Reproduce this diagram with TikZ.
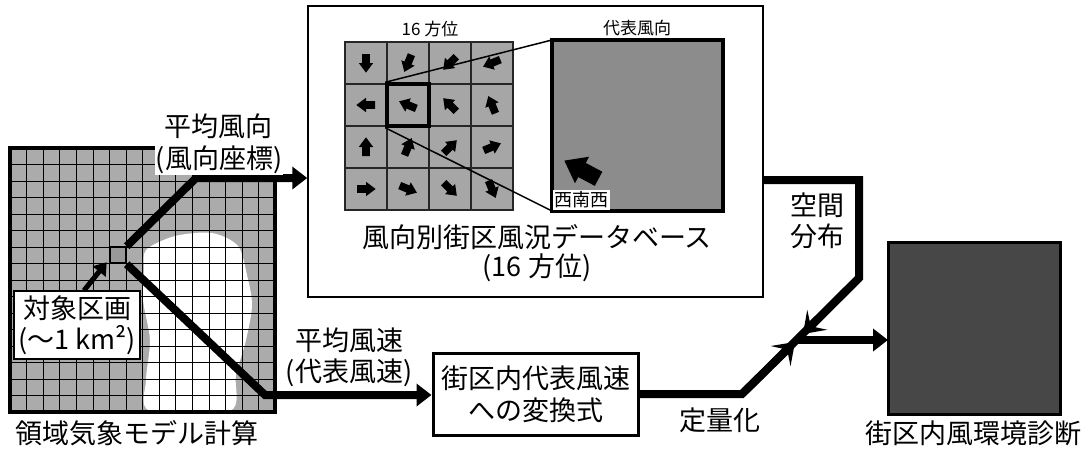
\documentclass[tikz,border=0pt]{standalone}
\usepackage{fontspec}
\setmainfont{Noto Sans CJK JP}
\usetikzlibrary{arrows.meta}
\tikzset{flow/.style={line width=8pt},
flowtip/.style={-{Triangle[length=15pt,width=22pt]}},
jointip/.style={-{Stealth[length=20pt,width=28pt,inset=9pt]}},
biglabel/.style={font=\fontsize{27}{31}\selectfont, inner sep=1pt, align=center},
smalllabel/.style={font=\fontsize{17}{20}\selectfont, inner sep=1pt},
mapbox/.style={draw, line width=#1, inner sep=0pt, outer sep=0pt},
%default border of the maps
mapbox/.default={4pt},
windarrow/.pic={\fill (-7.5,-3.2) -- (0,-3.2) -- (0,-6) -- (8,0) -- (0,6) -- (0,3.2) -- (-7.5,3.2) -- cycle;}}

\begin{document}
\begin{tikzpicture}[x=1pt,y=-1pt]
\useasboundingbox (0,0) rectangle (1088,450);

% regional model
\node[inner sep=0pt, fill=black!33, minimum width=265pt, minimum height=264pt] (region) at (142.5,280) {};
\fill[white] plot[smooth cycle] coordinates {(146,250) (175,236) (212,233) (238,246) (247,275) (252,305) (246,340) (236,375) (230,411) (150,411) (146,380) (150,340) (143,300) (144,270)};
\foreach \i in {1,...,15} {
     \draw (10+\i*16.5625,148) -- (10+\i*16.5625,412);
     \draw (10,148+\i*16.5) -- (275,148+\i*16.5);
}
\draw[line width=4pt] (region.north west) rectangle (region.south east);
\node[draw, line width=2pt, fill=black!40, minimum size=16pt, inner sep=0pt] (cell) at (117.7,255.2) {};
\node[biglabel, draw, line width=2pt, fill=white, inner sep=4pt] (target) at (77,325) {対象区画\\(～1 km²)};
\draw[line width=5pt, -{Triangle[length=12pt,width=16pt]}] ([xshift=7pt]target.north) -- ([shift={(-2pt,2pt)}]cell.south west);
\node[biglabel] (regionname) at (137,433) {領域気象モデル計算};

% database
\node[draw, line width=1.5pt, minimum width=455pt, minimum height=291pt] (db) at (535.5,151.5) {};
\foreach \r in {0,...,3}
  \foreach \c in {0,...,3} {
     \draw[draw=black!85, line width=1.5pt, fill=black!35] (345+42*\c,42+42*\r) rectangle ++(42,42);
     \pic[rotate={-90-22.5*(4*\r+\c)}, scale=1.2] at (366+42*\c,63+42*\r) {windarrow};
  }
\node[draw, line width=3.5pt, minimum size=42pt, inner sep=0pt] (sel) at (408,105) {};
\node[mapbox, fill=black!45, minimum size=171pt] (rep) at (637.5,125.5) {};
\draw[line width=1.5pt] (sel.north west) -- (rep.north west);
\draw[line width=1.5pt] (sel.south west) -- (rep.south west);
\pic[rotate=152, scale=2.5] at (582,170) {windarrow};
\node[fill=white, inner sep=1.5pt, font=\fontsize{18}{20}\selectfont, anchor=south west] (wsw) at (553,210) {西南西};
\node[smalllabel] (sixteen) at (430,29) {16 方位};
\node[smalllabel] (reptitle) at (637,28) {代表風向};
\node[biglabel, font=\fontsize{27}{29}\selectfont] (dbname) at (537,253.5) {風向別街区風況データベース\\(16 方位)};

% conversion and result
\node[biglabel, draw, line width=3pt, minimum width=205pt, minimum height=82pt, font=\fontsize{27}{32}\selectfont] (conv) at (535.5,394) {街区内代表風速\\への変換式};
\node[mapbox=3pt, fill=black!72, minimum size=172pt] (out) at (974,328) {};
\node[biglabel] (outname) at (973,433) {街区内風環境診断};

% flows
\coordinate (upbend) at (196,178);
\coordinate (lowbend) at (265,395);
\coordinate (rtop) at (859,180);
\coordinate (rmid) at (859,278);
\coordinate (lbend) at (742,394);
\coordinate (join) at (797,340);
\coordinate (tipA) at (803,334);
\coordinate (tipB) at (795,342);
\draw[flow, flowtip] (cell.north east) -- (upbend) -- (upbend -| db.west);
\draw[flow, flowtip] (cell.south east) -- (lowbend) -- (lowbend -| conv.west);
\draw[flow] (conv.east) -- (lbend) -- (rmid) -- (rtop) -- (rtop -| db.east);
\draw[flow, jointip] (rmid) -- (tipA);
\draw[flow, jointip] (lbend) -- (tipB);
\draw[flow, flowtip] (join) -- (join -| out.west);

%labels
\node[biglabel] (dirlabel) at (218,126) {平均風向};
\node[biglabel, fill=white] (dircoord) at (219,160) {(風向座標)};
\node[biglabel] (spdlabel) at (349,357.5) {平均風速\\(代表風速)};
\node[biglabel] (space) at (817,221) {空間\\分布};
\node[biglabel] (quant) at (720,420) {定量化};
\end{tikzpicture}
\end{document}
